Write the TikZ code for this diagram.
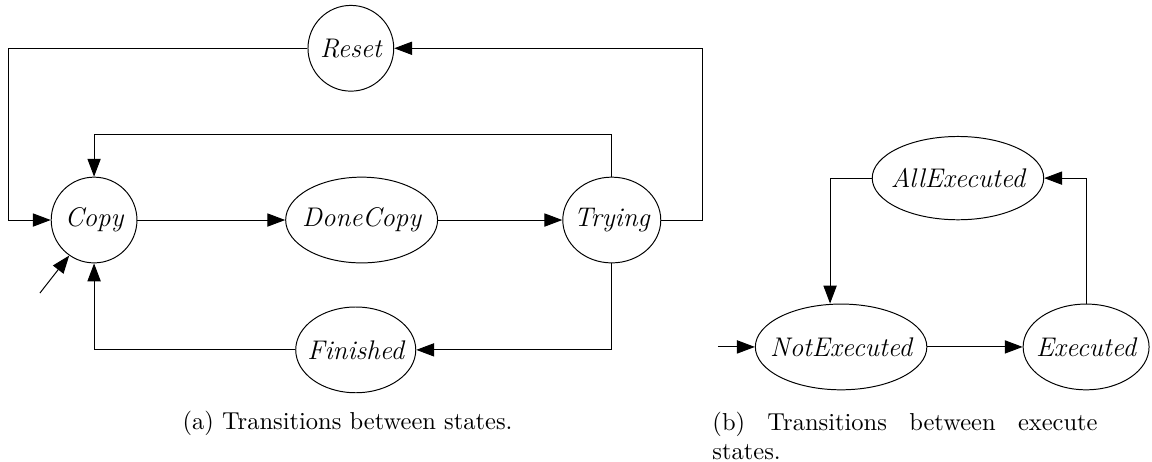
\documentclass[tikz,border=0pt]{standalone}
\usetikzlibrary{positioning, arrows.meta, shapes.geometric}

\begin{document}
\begin{tikzpicture}[
    node distance=20pt,
    state/.style={draw, ellipse, inner sep=0pt, minimum height=35pt, font=\fontsize{11}{13}\selectfont\itshape},
    roundstate/.style={state, circle, minimum size=35pt},
    arr/.style={-{Triangle[length=7.3pt, width=5.4pt]}},
    subcap/.style={inner sep=0pt}]

  \useasboundingbox (0,0) rectangle (470.2pt,-188.2pt);

  % copy cycle
  \node[roundstate] (copy) at (38.4pt,-89.8pt) {\makebox[0pt]{Copy}};
  \node[state, minimum width=62pt, right=60.3pt of copy] (donecopy) {\makebox[0pt]{DoneCopy}};
  \node[state, minimum width=40pt, right=50.7pt of donecopy] (trying) {\makebox[0pt]{Trying}};
  \node[roundstate, above=34.7pt of donecopy, xshift=-4.4pt] (reset) {\makebox[0pt]{Reset}};
  \node[state, minimum width=49pt, below=17.6pt of donecopy, xshift=-2.4pt] (finished) {\makebox[0pt]{Finished}};

  \coordinate (lftrail) at (3.3pt,0);
  \coordinate (rgtrail) at (286.9pt,0);
  \coordinate (toprail) at (0,-54.7pt);
  \coordinate (init) at (16.3pt,-119.6pt);

  \draw[arr] (copy) -- (donecopy);
  \draw[arr] (donecopy) -- (trying);
  \draw[arr] (reset.west) -- (reset.west -| lftrail) |- (copy.west);
  \draw[arr] (trying.east) -- (trying.east -| rgtrail) |- (reset.east);
  \draw[arr] (trying.north) -- (trying.north |- toprail) -| (copy.north);
  \draw[arr] (trying.south) |- (finished.east);
  \draw[arr] (finished.west) -| (copy.south);
  \draw[arr] (init) -- (copy.235);

  % execute cycle
  \node[state, minimum width=70pt] (notexec) at (343.3pt,-141.6pt) {\makebox[0pt]{NotExecuted}};
  \node[state, minimum width=51.4pt, right=38.9pt of notexec] (exec) {\makebox[0pt]{Executed}};
  \node[state, minimum width=70pt, minimum height=34pt] (allexec) at (391pt,-72.7pt) {\makebox[0pt]{AllExecuted}};

  \coordinate (init2) at (293pt,-141.6pt);

  \draw[arr] (init2) -- (notexec.west);
  \draw[arr] (notexec) -- (exec);
  \draw[arr] (exec.north) |- (allexec.east);
  \draw[arr] (allexec.west) -| ([xshift=-4.5pt]notexec.north);

  % captions
  \node[subcap, anchor=base west] (capa) at (74.3pt,-175.5pt) {(a) Transitions between states.};
  \node[subcap, anchor=north west, align=left] (capb) at (290.6pt,-168pt)
    {\makebox[157.2pt][s]{(b) Transitions between execute}\\states.};
\end{tikzpicture}
\end{document}
